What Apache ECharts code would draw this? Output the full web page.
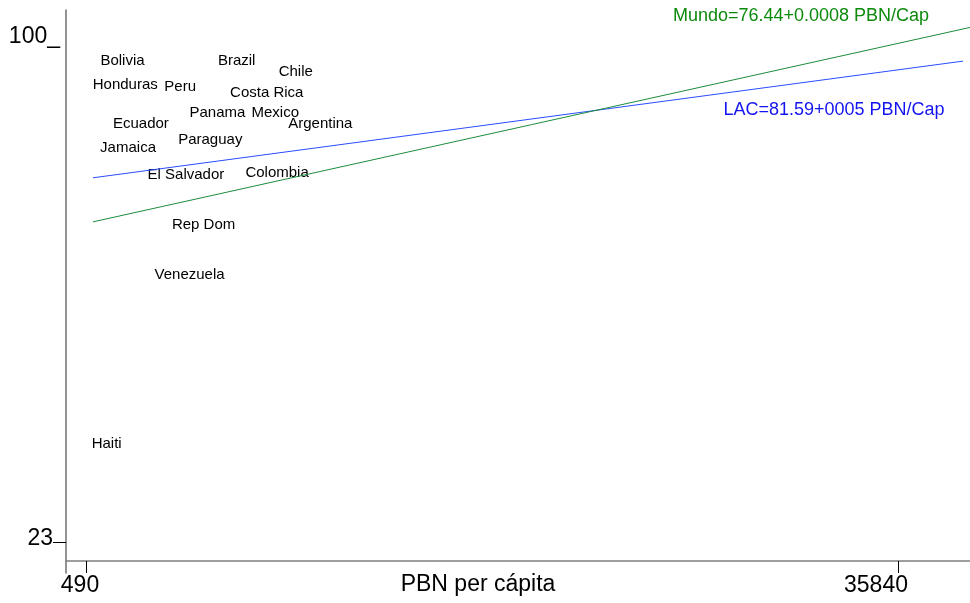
<!DOCTYPE html>
<html>
<head>
<meta charset="utf-8">
<script src="https://cdn.jsdelivr.net/npm/echarts@6/dist/echarts.min.js"></script>
<style>
  html, body { margin: 0; padding: 0; background: #fff; }
  #chart { width: 970px; height: 603px; }
</style>
</head>
<body>
<div id="chart"></div>
<script>
// paises de LAC: PBN per capita vs indicador
const countries = ['Bolivia', 'Brazil', 'Chile', 'Honduras', 'Peru', 'Costa Rica', 'Panama', 'Mexico',
  'Argentina', 'Ecuador', 'Paraguay', 'Jamaica', 'El Salvador', 'Colombia', 'Rep Dom', 'Venezuela', 'Haiti'];
const pbn = [2080, 7050, 9620, 2200, 4590, 8360, 6210, 8730,
  10690, 2880, 5900, 2320, 4840, 8810, 5610, 5000, 1390];
const indicador = [97.5, 97.5, 95.7, 93.8, 93.5, 92.6, 89.5, 89.5,
  87.7, 87.7, 85.3, 84.0, 79.9, 80.2, 72.2, 64.4, 38.4];

// rectas de regresion (extremos)
const lacX = [795, 38670];
const lacY = [79.2, 97.2];
const mundoX = [795, 38975];
const mundoY = [72.4, 102.4];

const xTicks = [490, 35840];
const yTicks = [23, 100];

const font = "'Liberation Sans', Arial, sans-serif";

const chart = echarts.init(document.getElementById('chart'));

const option = {
  animation: false,
  backgroundColor: '#fff',
  grid: { left: 66, right: 0, top: 10, bottom: 30, containLabel: false, outerBoundsMode: 'none' },
  xAxis: {
    type: 'value',
    min: -381,
    max: 38975,
    offset: -12,
    splitLine: { show: false },
    axisLine: { show: true, onZero: false, lineStyle: { color: '#7f7f7f', width: 1.5 } },
    axisTick: { show: true, customValues: xTicks, length: 12, lineStyle: { color: '#000' } },
    axisLabel: {
      customValues: xTicks,
      margin: 13,
      fontFamily: font,
      fontSize: 23,
      color: '#000',
      formatter: v => v === 490 ? '{a|490}' : '{b|35840}',
      rich: {
        a: { fontFamily: font, fontSize: 23, color: '#000', padding: [0, 12, 0, 0] },
        b: { fontFamily: font, fontSize: 23, color: '#000', padding: [0, 44, 0, 0] }
      }
    }
  },
  yAxis: {
    type: 'value',
    min: 18.216,
    max: 105.09,
    splitLine: { show: false },
    axisLine: { show: true, onZero: false, lineStyle: { color: '#6f6f6f', width: 1.5 } },
    axisTick: { show: true, customValues: [23], length: 13, lineStyle: { color: '#000' } },
    axisLabel: {
      customValues: yTicks,
      margin: 6,
      fontFamily: font,
      fontSize: 23,
      color: '#000',
      formatter: v => v === 100 ? '{a|100_}' : '{b|23}',
      rich: {
        a: { fontFamily: font, fontSize: 23, color: '#000', padding: [0, 0, 12, 0] },
        b: { fontFamily: font, fontSize: 23, color: '#000', padding: [0, 7, 6, 0] }
      }
    }
  },
  series: [
    {
      type: 'line',
      name: 'LAC',
      data: lacX.map((x, i) => [x, lacY[i]]),
      symbol: 'none',
      lineStyle: { color: '#2a4dff', width: 1 }
    },
    {
      type: 'line',
      name: 'Mundo',
      data: mundoX.map((x, i) => [x, mundoY[i]]),
      symbol: 'none',
      lineStyle: { color: '#1e8c3c', width: 1 }
    },
    {
      type: 'scatter',
      symbolSize: 0,
      data: countries.map((c, i) => ({ name: c, value: [pbn[i], indicador[i]] })),
      label: {
        show: true,
        position: 'inside',
        offset: [0, 1.5],
        formatter: '{b}',
        fontFamily: font,
        fontSize: 15,
        color: '#000',
        opacity: 1,
        textBorderWidth: 0
      }
    }
  ],
  graphic: [
    {
      type: 'text', x: 801, y: 16,
      style: { text: 'Mundo=76.44+0.0008 PBN/Cap', fill: '#0c8a0c', font: '18px ' + font, align: 'center', verticalAlign: 'middle' }
    },
    {
      type: 'text', x: 834, y: 110,
      style: { text: 'LAC=81.59+0005 PBN/Cap', fill: '#1414f0', font: '18px ' + font, align: 'center', verticalAlign: 'middle' }
    },
    {
      type: 'text', x: 478, y: 585,
      style: { text: 'PBN per cápita', fill: '#000', font: '23px ' + font, align: 'center', verticalAlign: 'middle' }
    }
  ]
};

chart.setOption(option);
</script>
</body>
</html>
